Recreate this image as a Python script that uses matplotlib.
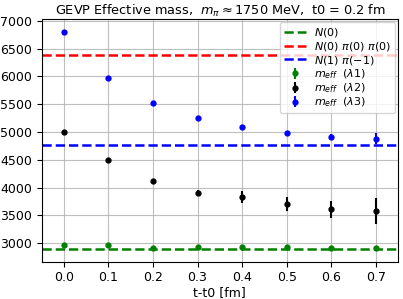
import matplotlib
matplotlib.use("Agg")
import matplotlib.pyplot as plt

t = [0.0, 0.1, 0.2, 0.3, 0.4, 0.5, 0.6, 0.7]
lam1 = [2976, 2976, 2917, 2929, 2940, 2929, 2917, 2923]
lam1_err = [10, 10, 10, 12, 12, 12, 12, 15]
lam2 = [5006, 4500, 4113, 3905, 3833, 3708, 3613, 3577]
lam2_err = [15, 20, 30, 45, 100, 125, 150, 230]
lam3 = [6798, 5970, 5524, 5244, 5089, 4982, 4917, 4881]
lam3_err = [15, 20, 20, 25, 30, 40, 50, 95]
n0 = 2900
n0pipi = 6385
n1pi = 4768

fig = plt.figure(figsize=(4.03, 2.99), dpi=100)
ax = fig.add_axes([0.103, 0.125, 0.885, 0.811])
ax.axhline(n0, color='green', ls='--', lw=1.8, label=r'$N(0)$')
ax.axhline(n0pipi, color='red', ls='--', lw=1.8, label=r'$N(0)\ \pi(0)\ \pi(0)$')
ax.axhline(n1pi, color='blue', ls='--', lw=1.8, label=r'$N(1)\ \pi(-1)$')
ax.errorbar(t, lam1, yerr=lam1_err, fmt='o', color='green', ms=3.5, elinewidth=1.5, label=r'$m_{eff}\ \ (\lambda1)$')
ax.errorbar(t, lam2, yerr=lam2_err, fmt='o', color='black', ms=3.5, elinewidth=1.5, label=r'$m_{eff}\ \ (\lambda2)$')
ax.errorbar(t, lam3, yerr=lam3_err, fmt='o', color='blue', ms=3.5, elinewidth=1.5, label=r'$m_{eff}\ \ (\lambda3)$')
ax.set_xlim(-0.05, 0.75)
ax.set_ylim(2670, 7030)
ax.set_xticks(t)
ax.set_xticklabels([f"{v:.1f}" for v in t])
ax.tick_params(labelsize=9)
ax.grid(True, alpha=0.8)
ax.set_axisbelow(True)
ax.set_xlabel('t-t0 [fm]', fontsize=9, labelpad=1)
ax.set_title(r'GEVP Effective mass,  $m_\pi\approx1750$ MeV,  t0 = 0.2 fm', fontsize=9.3, pad=3)
ax.legend(loc='upper right', fontsize=8, borderaxespad=0.3, labelspacing=0.06,
          borderpad=0.35, handletextpad=0.7, handlelength=2.0)
fig.savefig('out.png', dpi=100)
